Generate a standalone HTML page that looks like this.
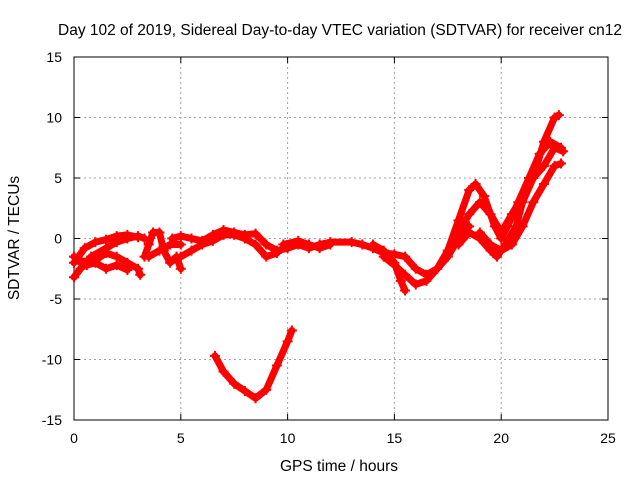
<!DOCTYPE html>
<html><head><meta charset="utf-8"><style>
body{margin:0;background:#fff}
svg{display:block;font-family:"Liberation Sans",sans-serif}
</style></head><body>
<svg id="c" width="640" height="480">
<rect x="0" y="0" width="640" height="480" fill="#fff"/>
<text x="340" y="35" font-size="15.5" text-anchor="middle">Day 102 of 2019, Sidereal Day-to-day VTEC variation (SDTVAR) for receiver cn12</text>
<text x="339" y="471" font-size="15.5" text-anchor="middle">GPS time / hours</text>
<text transform="translate(19,238) rotate(-90)" font-size="15.5" text-anchor="middle">SDTVAR / TECUs</text>
<g id="grid"></g>
<g id="axes"></g>
<g id="data"></g>
</svg>
<script>
const xTicks=[0,5,10,15,20,25];
const yTicks=[-15,-10,-5,0,5,10,15];
const tA1=[[0,-3.2],[0.3,-2.5],[0.8,-1.5],[1.5,-0.8],[2,-0.3],[2.5,0],[3,0.2],[3.3,0]];
const tA2=[[0,-2],[0.5,-0.8],[1,-0.3],[1.5,-0.1],[2,0.2],[2.5,0.3],[3,0.1]];
const tA3=[[0,-1.5],[0.5,-2],[1,-1.8],[1.5,-1.2],[2,-1.5],[2.5,-2],[3,-2.5],[3.1,-3]];
const tA4=[[0.2,-1.8],[0.6,-2.2],[1,-2],[1.5,-2.5],[2,-2.2],[2.5,-2.6]];
const tB1=[[3.3,-1.5],[3.5,-0.5],[3.7,0.5],[4,0.5],[4.2,-1],[4.5,-2],[4.8,-1.5],[5,-2.5]];
const tB2=[[3.5,-1.5],[4,-1],[4.5,-0.5],[5,-0.5]];
const tC1=[[4.6,0],[5,0.2],[5.5,0],[6,-0.2],[6.5,0.3],[7,0.7],[7.5,0.5],[8,0.3],[8.5,0.4],[9,-0.5],[9.5,-1],[10,-0.8],[10.5,-0.5],[11,-0.8],[11.5,-0.5],[12,-0.3],[13,-0.3],[13.5,-0.5],[14,-0.8],[14.5,-1.2],[15,-1.3],[15.5,-1.5],[16,-2.5],[16.5,-3],[17,-2.5],[17.5,-1.5],[18,0],[18.5,1]];
const tC2=[[5,-1.5],[5.5,-1],[6,-0.5],[6.5,-0.2],[7,0.3],[7.5,0.3],[8,0],[8.5,-0.5],[9,-1.5],[9.5,-1.2]];
const tC3=[[9.8,-0.5],[10.5,-0.2],[11,-0.5],[11.5,-0.8],[12,-0.5]];
const tD1=[[14,-0.5],[14.5,-1],[15,-2],[15.3,-3.5],[15.5,-4.3]];
const tD2=[[14.5,-1.5],[15,-2.2],[15.5,-3],[16,-3.8],[16.5,-3.5],[17,-2.5],[17.5,-1],[18,0.5],[18.5,2],[19,3],[19.5,2],[20,0.5],[20.5,2],[21,3.5],[21.5,5],[22,8],[22.5,10],[22.7,10.2]];
const tE=[[17.5,-1],[18,1.5],[18.5,4],[18.8,4.5],[19.2,3.5],[19.7,1],[20,0],[20.3,1],[20.8,3],[21.3,5],[21.8,7],[22.3,8],[22.8,7.5]];
const tF=[[18,-0.5],[18.5,0.5],[19,0],[19.5,-1],[19.8,-1.5],[20.2,-0.5],[20.7,1],[21,3],[21.5,5],[22,6],[22.5,7.5],[22.9,7.2]];
const tG=[[19,0.5],[19.5,-0.5],[20,-1],[20.5,-0.5],[21,1],[21.5,3],[22,4.5],[22.5,6],[22.8,6.2]];
const tH=[[6.6,-9.7],[7,-11],[7.5,-12],[8,-12.6],[8.5,-13.2],[9,-12.5],[9.5,-10.5],[10,-8.5],[10.2,-7.6]];
const tracks=[tA1,tA2,tA3,tA4,tB1,tB2,tC1,tC2,tC3,tD1,tD2,tE,tF,tG,tH];
const X0=74,X1=608,Y0=420,Y1=57;
const xs=v=>X0+(v-0)/25*(X1-X0);
const ys=v=>Y0-(v+15)/30*(Y0-Y1);
const NS="http://www.w3.org/2000/svg";
function mk(t,a,p){const e=document.createElementNS(NS,t);for(const k in a)e.setAttribute(k,a[k]);p.appendChild(e);return e;}
const grid=document.getElementById('grid'),axes=document.getElementById('axes'),data=document.getElementById('data');
xTicks.forEach(v=>{const x=xs(v);
 if(v>0&&v<25){const l=mk('line',{x1:x,y1:Y1,x2:x,y2:Y0,stroke:'#a0a0a0','stroke-dasharray':'2,3'},grid);}
 const t=mk('text',{x:x,y:443,'font-size':14,'text-anchor':'middle'},axes);t.textContent=v;
 
 mk('line',{x1:x,y1:Y0,x2:x,y2:Y0-6,stroke:'#000'},axes);mk('line',{x1:x,y1:Y1,x2:x,y2:Y1+6,stroke:'#000'},axes);});
yTicks.forEach(v=>{const y=ys(v);
 if(v>-15&&v<15){const l=mk('line',{x1:X0,y1:y,x2:X1,y2:y,stroke:'#a0a0a0','stroke-dasharray':'2,3'},grid);}
 const t=mk('text',{x:62,y:y+5,'font-size':14,'text-anchor':'end'},axes);t.textContent=v;
 
 mk('line',{x1:X0,y1:y,x2:X0+6,y2:y,stroke:'#000'},axes);mk('line',{x1:X1,y1:y,x2:X1-6,y2:y,stroke:'#000'},axes);});
mk('rect',{x:X0,y:Y1,width:X1-X0,height:Y0-Y1,fill:'none',stroke:'#000'},axes);
tracks.forEach(tr=>{
 const pl=mk('polyline',{points:tr.map(p=>xs(p[0])+','+ys(p[1])).join(' '),fill:'none',stroke:'#f00','stroke-width':7,'stroke-linejoin':'round','stroke-linecap':'round'},data);
 
 tr.forEach(p=>{const x=xs(p[0]),y=ys(p[1]);
  const m=mk('path',{d:`M${x-5},${y}H${x+5}M${x},${y-5}V${y+5}`,stroke:'#f00','stroke-width':2},data);
  });
});
</script>
</body></html>
